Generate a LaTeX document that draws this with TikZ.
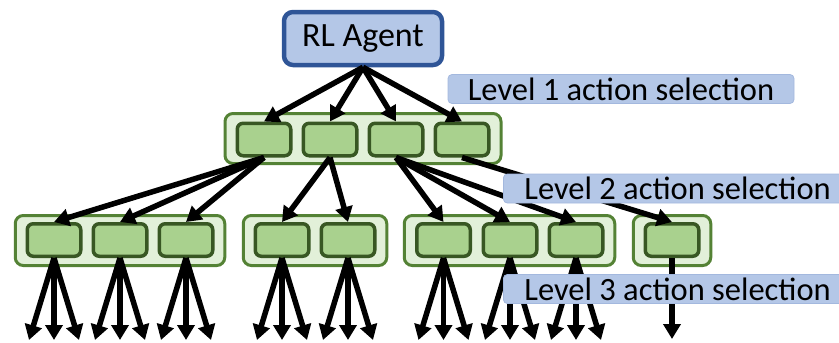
\documentclass[tikz,border=0pt]{standalone}
\usepackage{fontspec}
\setmainfont{Carlito}
\usetikzlibrary{arrows.meta}
\definecolor{agentfill}{HTML}{B4C7E7}
\definecolor{agentdraw}{HTML}{2F5597}
\definecolor{tagline}{HTML}{A3B8DE}
\definecolor{grpfill}{HTML}{E2F0D9}
\definecolor{grpdraw}{HTML}{548235}
\definecolor{cellfill}{HTML}{A9D18E}
\definecolor{celldraw}{HTML}{385723}
\begin{document}
\begin{tikzpicture}[x=1pt,y=-1pt,
  agent/.style={draw=agentdraw, fill=agentfill, line width=4.5pt, rounded corners=9pt,
    minimum width=158pt, minimum height=53pt, inner sep=0pt,
    font=\fontsize{34}{40}\selectfont},
  group/.style={draw=grpdraw, fill=grpfill, line width=3pt, rounded corners=8pt,
    minimum height=50pt, inner sep=0pt},
  cell/.style={draw=celldraw, fill=cellfill, line width=3.5pt, rounded corners=6pt,
    minimum width=53.5pt, minimum height=32.5pt, inner sep=0pt},
  tag/.style={draw=tagline, fill=agentfill, line width=0.8pt, rounded corners=4pt,
    minimum height=29pt, inner ysep=0pt, font=\fontsize{32.5}{38}\selectfont},
  arr/.style={line width=5.5pt, -{Triangle[length=15pt,width=17pt]}}
]
\clip (0,0) rectangle (839,343);

% containers of the action groups
\node[group, minimum width=276pt] (g0) at (363,138.5) {};
\node[group, minimum width=209.5pt] (g1) at (120,240.5) {};
\node[group, minimum width=143.5pt] (g2) at (315,240.5) {};
\node[group, minimum width=210.5pt] (g3) at (509.5,240.5) {};
\node[group, minimum width=77.5pt] (g4) at (672,240.5) {};

% level 1 actions
\foreach \n/\x in {a1/264, a2/330, a3/396, a4/462}
  \node[cell] (\n) at (\x,139.5) {};

% level 2 actions
\foreach \n/\x in {b1/54, b2/120, b3/186, b4/282, b5/348, b6/443.5, b7/510, b8/576, b9/672}
  \node[cell] (\n) at (\x,240) {};

% agent
\node[agent] (agent) at (363,38.5) {RL Agent};

% agent to level 1
\foreach \n in {a1,a2,a3,a4}
  \draw[arr] (agent.south) -- (\n.north);

% level 1 to level 2
\foreach \s/\t in {a1/b1, a1/b2, a1/b3, a2/b4, a2/b5, a3/b6, a3/b7, a3/b8, a4/b9}
  \draw[arr] (\s.south) -- (\t.north);

% level 2 to level 3
\foreach \n/\x in {b1/54, b2/120, b3/186, b4/282, b5/348, b6/443.5, b7/510, b8/576}{
  \coordinate (\n l) at (\x-25,340);
  \coordinate (\n m) at (\x,340);
  \coordinate (\n r) at (\x+25,340);
  \draw[arr] (\n.south) -- (\n l);
  \draw[arr] (\n.south) -- (\n m);
  \draw[arr] (\n.south) -- (\n r);
}
\coordinate (b9m) at (672,339);
\draw[arr] (b9.south) -- (b9m);

% level captions
\node[tag, minimum width=346pt] (t1) at (621,89) {Level 1 action selection};
\node[tag, anchor=west, inner xsep=21pt] (t2) at (503,188.5) {Level 2 action selection};
\node[tag, anchor=west, inner xsep=21pt] (t3) at (503,289) {Level 3 action selection};
\end{tikzpicture}
\end{document}
